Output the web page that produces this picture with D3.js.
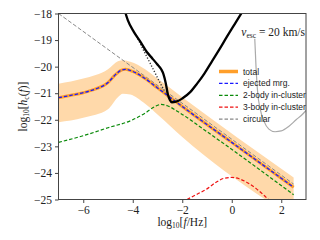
<!DOCTYPE html>
<html>
<head>
<meta charset="utf-8">
<script src="https://cdn.jsdelivr.net/npm/d3@7"></script>
<style>
  body { margin: 0; background: #fff; }
  svg { display: block; }
</style>
</head>
<body>
<div id="chart"></div>
<script>
// data (x = log10 f, y = log10 h_c)
var x_ticks = [-6, -4, -2, 0, 2],
    y_ticks = [-25, -24, -23, -22, -21, -20, -19, -18];

var total_x = [-7, -6.5, -6, -5.5, -5.0, -4.75, -4.5, -4.3, -4.0, -3.5, -3.0, -2.5, -2.0, 0, 2.5],
    total_y = [-21.17, -21.08, -20.98, -20.84, -20.6, -20.35, -20.15, -20.1, -20.18, -20.45, -20.8, -21.15, -21.5, -22.85, -24.54];

var band_x = [-7, -6, -5, -4.6, -4.4, -4.1, -3.5, -3.0, -2.0, 2.5],
    band_hi = [-20.64, -20.45, -20.1, -19.8, -19.76, -19.82, -20.1, -20.45, -21.15, -24.17],
    band_lo = [-22.09, -21.92, -21.6, -21.15, -21.02, -21.05, -21.4, -21.8, -22.65, -25.7];

var twobody_x = [-7, -6, -5, -4, -3.5, -3.1, -2.85, -2.6, -2.2, -1.0, 0.5, 2.5],
    twobody_y = [-22.85, -22.6, -22.3, -22.0, -21.75, -21.5, -21.42, -21.47, -21.68, -22.45, -23.45, -24.82];

var threebody_x = [-1.81, -1.4, -1.0, -0.6, -0.3, 0, 0.3, 0.6, 1.0, 1.25, 1.48],
    threebody_y = [-25, -24.8, -24.6, -24.33, -24.2, -24.17, -24.22, -24.35, -24.6, -24.8, -25];

var circular_x = [-7, 2.5],
    circular_y = [-18, -24.42];

var sens_x = [-4.32, -4.2, -3.95, -3.7, -3.43, -3.2, -3.02, -2.85, -2.76, -2.66, -2.58, -2.5, -2.42, -2.25, -2.0, -1.68, -1.4, -1.1, -0.8, -0.5, -0.2, 0.15, 0.45],
    sens_y = [-17.9, -18.25, -18.7, -19.05, -19.45, -19.7, -19.9, -20.1, -20.28, -20.65, -21.05, -21.25, -21.34, -21.32, -21.2, -20.96, -20.64, -20.25, -19.8, -19.35, -18.88, -18.35, -17.9];

var sens_dot_x = [-3.85, -3.5, -3.2, -2.9, -2.6, -2.45],
    sens_dot_y = [-18.85, -19.5, -20.05, -20.6, -21.1, -21.3];

var grey_x = [0.93, 0.98, 1.05, 1.15, 1.3, 1.5, 1.75, 2.0, 2.3, 2.6, 2.85, 3.0],
    grey_y = [-18.95, -20.0, -21.0, -21.6, -22.05, -22.35, -22.45, -22.42, -22.25, -22.0, -21.8, -21.65];

var legend_labels = ['total', 'ejected mrg.', '2-body in-cluster', '3-body in-cluster', 'circular'];

// layout
var W = 320, H = 240,
    margin = {top: 13.5, right: 14, bottom: 40.5, left: 58.5},
    width = W - margin.left - margin.right,
    height = H - margin.top - margin.bottom;

var x = d3.scaleLinear().domain([-7, 3]).range([0, width]),
    y = d3.scaleLinear().domain([-25, -18]).range([height, 0]);

function pts(xs, ys) { return xs.map(function(v, i) { return [v, ys[i]]; }); }

var line = d3.line().x(function(d) { return x(d[0]); }).y(function(d) { return y(d[1]); })
    .curve(d3.curveMonotoneX);
var straight = d3.line().x(function(d) { return x(d[0]); }).y(function(d) { return y(d[1]); });
var area = d3.area()
    .x(function(d) { return x(d[0]); })
    .y0(function(d) { return y(d[2]); })
    .y1(function(d) { return y(d[1]); })
    .curve(d3.curveMonotoneX);

var svg = d3.select('#chart').append('svg')
    .attr('width', W).attr('height', H)
  .append('g')
    .attr('transform', 'translate(' + margin.left + ',' + margin.top + ')');

svg.append('clipPath').attr('id', 'clip')
  .append('rect').attr('width', width).attr('height', height);

var plot = svg.append('g').attr('clip-path', 'url(#clip)');

// band
plot.append('path')
    .datum(band_x.map(function(v, i) { return [v, band_hi[i], band_lo[i]]; }))
    .attr('d', area)
    .attr('fill', '#ffd9aa');

// circular
plot.append('path').datum(pts(circular_x, circular_y)).attr('d', straight)
    .attr('fill', 'none').attr('stroke', '#888').attr('stroke-width', 1)
    .attr('stroke-dasharray', '4,2');

// sensitivity curves
plot.append('path').datum(pts(sens_dot_x, sens_dot_y)).attr('d', line)
    .attr('fill', 'none').attr('stroke', '#333').attr('stroke-width', 1.4)
    .attr('stroke-dasharray', '1.2,1.8');
plot.append('path').datum(pts(grey_x, grey_y)).attr('d', line)
    .attr('fill', 'none').attr('stroke', '#aaa').attr('stroke-width', 1.2);

// total + components
plot.append('path').datum(pts(total_x, total_y)).attr('d', line)
    .attr('fill', 'none').attr('stroke', '#ff9f2a').attr('stroke-width', 3);
plot.append('path').datum(pts(total_x, total_y)).attr('d', line)
    .attr('fill', 'none').attr('stroke', '#1a1aff').attr('stroke-width', 1.3)
    .attr('stroke-dasharray', '3.5,2');
plot.append('path').datum(pts(twobody_x, twobody_y)).attr('d', line)
    .attr('fill', 'none').attr('stroke', '#0a8a0a').attr('stroke-width', 1.2)
    .attr('stroke-dasharray', '3.5,2');
plot.append('path').datum(pts(threebody_x, threebody_y)).attr('d', line)
    .attr('fill', 'none').attr('stroke', '#ee1111').attr('stroke-width', 1.2)
    .attr('stroke-dasharray', '3.5,2');

plot.append('path').datum(pts(sens_x, sens_y)).attr('d', line)
    .attr('fill', 'none').attr('stroke', '#000').attr('stroke-width', 2.3);

// frame
svg.append('rect').attr('width', width).attr('height', height)
    .attr('fill', 'none').attr('stroke', '#444').attr('stroke-width', 1);

// axes
var serif = '"Liberation Serif", "DejaVu Serif", serif';
var tickFmt = function(d) { return d < 0 ? '\u2212' + Math.abs(d) : '' + d; };
var x_axis = svg.append('g').attr('transform', 'translate(0,' + height + ')')
    .call(d3.axisBottom(x).tickValues(x_ticks).tickFormat(tickFmt).tickSize(3.5).tickPadding(3));
var y_axis = svg.append('g')
    .call(d3.axisLeft(y).tickValues(y_ticks).tickFormat(tickFmt).tickSize(3.5).tickPadding(3));
[x_axis, y_axis].forEach(function(a) {
  a.attr('font-family', serif).attr('font-size', 11.5);
  a.select('.domain').remove();
  a.selectAll('line').attr('stroke', '#444');
  a.selectAll('text').attr('fill', '#222');
});

// axis labels
var xl = svg.append('text').attr('x', width / 2).attr('y', height + 26)
    .attr('text-anchor', 'middle').attr('fill', '#222')
    .style('font-family', serif).style('font-size', '11.5px');
xl.append('tspan').text('log');
xl.append('tspan').attr('font-size', '7.5px').attr('dy', 2.5).text('10');
xl.append('tspan').attr('dy', -2.5).text('[');
xl.append('tspan').attr('font-style', 'italic').text('f');
xl.append('tspan').text('/Hz]');

var yl = svg.append('text')
    .attr('transform', 'translate(' + (-32) + ',' + (height / 2) + ') rotate(-90)')
    .attr('text-anchor', 'middle').attr('fill', '#222')
    .style('font-family', serif).style('font-size', '11.5px');
yl.append('tspan').text('log');
yl.append('tspan').attr('font-size', '7.5px').attr('dy', 2.5).text('10');
yl.append('tspan').attr('dy', -2.5).text('[');
yl.append('tspan').attr('font-style', 'italic').text('h');
yl.append('tspan').attr('font-size', '7.5px').attr('dy', 2.5).text('c');
yl.append('tspan').attr('dy', -2.5).text('(');
yl.append('tspan').attr('font-style', 'italic').text('f');
yl.append('tspan').text(')]');

// v_esc annotation
var ann = svg.append('text').attr('x', width - 1).attr('y', 22)
    .attr('text-anchor', 'end').attr('fill', '#222')
    .style('font-family', serif).style('font-size', '11.5px');
ann.append('tspan').attr('font-style', 'italic').text('v');
ann.append('tspan').attr('font-size', '7.5px').attr('dy', 2.5).text('esc');
ann.append('tspan').attr('dy', -2.5).text(' = 20 km/s');

// legend
var legend_style = [
  {stroke: '#ff9f2a', w: 3.5, dash: null},
  {stroke: '#1a1aff', w: 1.3, dash: '3.5,2'},
  {stroke: '#0a8a0a', w: 1.3, dash: '3.5,2'},
  {stroke: '#ee1111', w: 1.3, dash: '3.5,2'},
  {stroke: '#888', w: 1.3, dash: '3.5,2'}
];
var legend = svg.append('g').attr('transform', 'translate(' + (219 - margin.left) + ',' + (71.5 - margin.top) + ')');
var rows = legend.selectAll('g').data(legend_labels).enter().append('g')
    .attr('transform', function(d, i) { return 'translate(0,' + (i * 11.9) + ')'; });
rows.append('line').attr('x1', 0).attr('x2', 19).attr('y1', 0).attr('y2', 0)
    .attr('stroke', function(d, i) { return legend_style[i].stroke; })
    .attr('stroke-width', function(d, i) { return legend_style[i].w; })
    .attr('stroke-dasharray', function(d, i) { return legend_style[i].dash; });
rows.append('text').attr('x', 24).attr('y', 3)
    .attr('fill', '#222')
    .style('font-family', '"Liberation Sans", Arial, sans-serif').style('font-size', '8.5px')
    .text(function(d) { return d; });
</script>
</body>
</html>
